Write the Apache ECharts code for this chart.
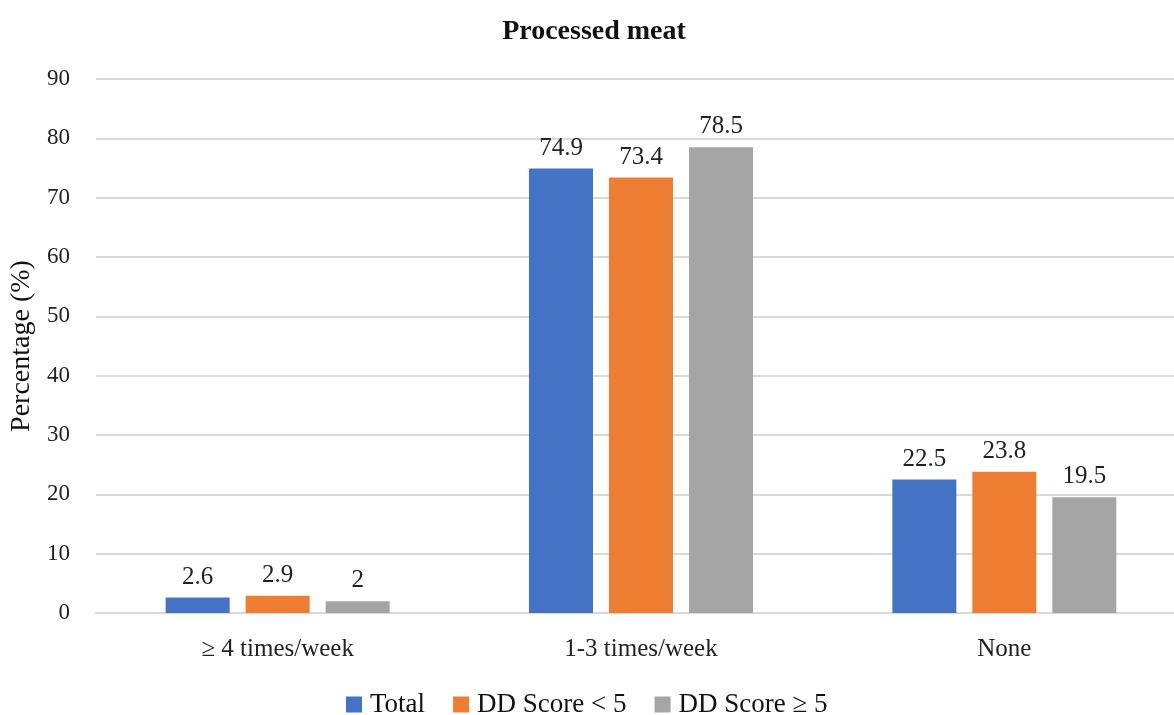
<!DOCTYPE html>
<html>
<head>
<meta charset="utf-8">
<script src="https://cdn.jsdelivr.net/npm/echarts@6/dist/echarts.min.js"></script>
<style>
  html, body { margin: 0; padding: 0; background: #fff; overflow: hidden; }
  /* the plot area continues a little past the right edge of the window */
  #chart { width: 1190px; height: 715px; }
</style>
</head>
<body>
<div id="chart"></div>
<script>
// Frequency of processed meat intake
const categories = ['≥ 4 times/week', '1-3 times/week', 'None'];
const seriesNames = ['Total', 'DD Score < 5', 'DD Score ≥ 5'];
const totalValues = [2.6, 74.9, 22.5];
const lowScoreValues = [2.9, 73.4, 23.8];
const highScoreValues = [2, 78.5, 19.5];
const colors = ['#4472C4', '#ED7D31', '#A5A5A5'];

const FONT = 'Liberation Serif';
const VIEW_W = 1174;

function barSeries(name, values, color) {
  return {
    name: name,
    type: 'bar',
    data: values,
    barWidth: 64,
    barGap: '25%',
    itemStyle: { color: color },
    label: {
      show: true,
      position: 'top',
      distance: 8,
      color: '#222',
      fontFamily: FONT,
      fontSize: 25
    }
  };
}

const chart = echarts.init(document.getElementById('chart'), null, { renderer: 'canvas' });
chart.setOption({
  animation: false,
  color: colors,
  title: {
    text: 'Processed meat',
    left: VIEW_W / 2 + 2,
    textAlign: 'center',
    top: 13,
    textStyle: { fontFamily: FONT, fontWeight: 'bold', fontSize: 28, color: '#111' }
  },
  grid: { left: 96, right: 4, top: 79, bottom: 102, containLabel: false },
  legend: {
    bottom: -8,
    left: 341,
    itemWidth: 16,
    itemHeight: 16,
    itemGap: 28,
    icon: 'rect',
    textStyle: { fontFamily: FONT, fontSize: 27, color: '#111', padding: [0, 0, 0, 3] },
    data: seriesNames
  },
  xAxis: {
    type: 'category',
    data: categories,
    axisLine: { lineStyle: { color: '#d9d9d9', width: 2 } },
    axisTick: { show: false },
    axisLabel: { fontFamily: FONT, fontSize: 25, color: '#222', margin: 24 }
  },
  yAxis: {
    type: 'value',
    min: 0,
    max: 90,
    interval: 10,
    name: 'Percentage (%)',
    nameLocation: 'middle',
    nameGap: 58,
    nameTextStyle: { fontFamily: FONT, fontSize: 28, color: '#111' },
    axisLine: { show: false },
    axisTick: { show: false },
    axisLabel: { fontFamily: FONT, fontSize: 23, color: '#222', margin: 26 },
    splitLine: { lineStyle: { color: '#d9d9d9', width: 2 } }
  },
  series: [
    barSeries(seriesNames[0], totalValues, colors[0]),
    barSeries(seriesNames[1], lowScoreValues, colors[1]),
    barSeries(seriesNames[2], highScoreValues, colors[2])
  ]
});
</script>
</body>
</html>
